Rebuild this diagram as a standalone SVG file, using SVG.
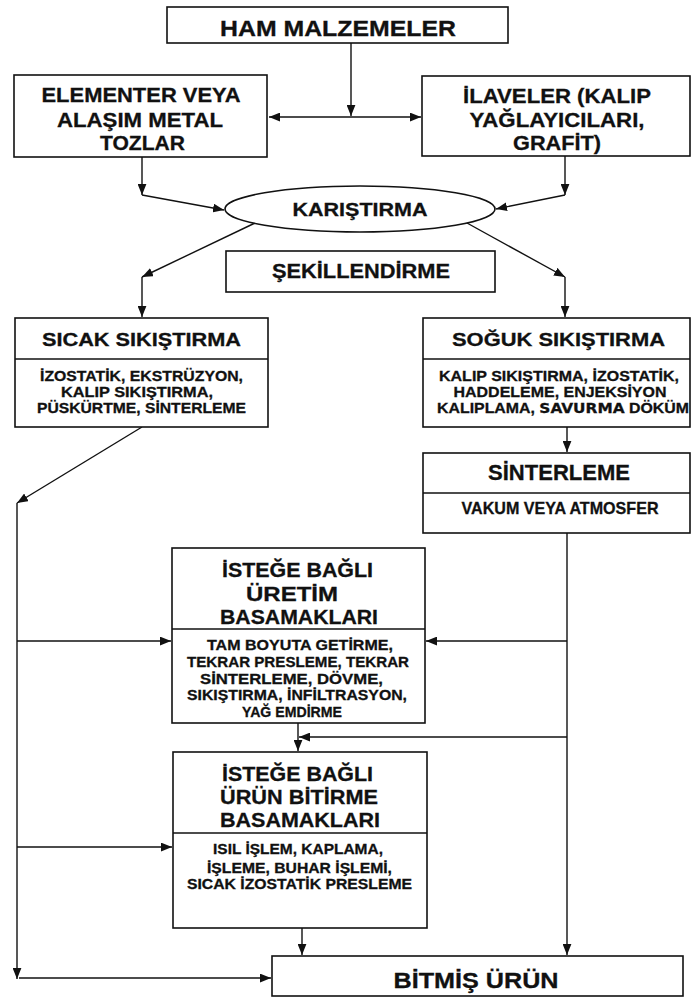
<svg xmlns="http://www.w3.org/2000/svg" width="692" height="997" viewBox="0 0 692 997">
<style>
.box{fill:#fff;stroke:#111;stroke-width:1.6}
.div{stroke:#111;stroke-width:1.4}
.t{font-family:"Liberation Sans",Arial,sans-serif;font-weight:bold;fill:#111;stroke:#111;stroke-width:0.3;text-anchor:middle}
.h{font-size:20.5px}
.s{font-size:15px}
.c{fill:none;stroke:#111;stroke-width:1.4}
</style>
<defs>
<marker id="a" viewBox="0 0 10 8" refX="10" refY="4" markerWidth="11" markerHeight="9" markerUnits="userSpaceOnUse" orient="auto"><path d="M0,0L10,4L0,8z" fill="#111"/></marker>
<marker id="b" viewBox="0 0 10 8" refX="0" refY="4" markerWidth="11" markerHeight="9" markerUnits="userSpaceOnUse" orient="auto"><path d="M10,0L0,4L10,8z" fill="#111"/></marker>
</defs>
<rect width="692" height="997" fill="#fff"/>
<g id="connectors">
<path class="c" d="M351,43V116" marker-end="url(#a)"/>
<path class="c" d="M269,117H421" marker-start="url(#b)" marker-end="url(#a)"/>
<path class="c" d="M142,157V195" marker-end="url(#a)"/>
<path class="c" d="M142,195L224,210" marker-end="url(#a)"/>
<path class="c" d="M565,156V195" marker-end="url(#a)"/>
<path class="c" d="M565,195L496,209" marker-end="url(#a)"/>
<path class="c" d="M255,223L142,277" marker-end="url(#a)"/>
<path class="c" d="M142,277V317" marker-end="url(#a)"/>
<path class="c" d="M467,223L565,277" marker-end="url(#a)"/>
<path class="c" d="M565,277V317" marker-end="url(#a)"/>
<path class="c" d="M567,427V452" marker-end="url(#a)"/>
<path class="c" d="M142,427L17,503" marker-end="url(#a)"/>
<path class="c" d="M17,503V979" marker-end="url(#a)"/>
<path class="c" d="M17,641H171" marker-end="url(#a)"/>
<path class="c" d="M17,847H172" marker-end="url(#a)"/>
<path class="c" d="M19,978H271" marker-end="url(#a)"/>
<path class="c" d="M567,533V955" marker-end="url(#a)"/>
<path class="c" d="M567,641H426" marker-end="url(#a)"/>
<path class="c" d="M567,737H299" marker-end="url(#a)"/>
<path class="c" d="M298,723V751" marker-end="url(#a)"/>
<path class="c" d="M302,928V955" marker-end="url(#a)"/>
</g>
<g id="ham">
<rect class="box" x="167" y="7" width="341" height="36"/>
<text class="t h" x="338" y="35.5" textLength="236" lengthAdjust="spacingAndGlyphs" style="font-size:22px">HAM MALZEMELER</text>
</g>
<g id="tozlar">
<rect class="box" x="14" y="75" width="253" height="82"/>
<text class="t h" x="141" y="102" textLength="199" lengthAdjust="spacingAndGlyphs">ELEMENTER VEYA</text>
<text class="t h" x="140" y="126.5" textLength="166" lengthAdjust="spacingAndGlyphs">ALAŞIM METAL</text>
<text class="t h" x="142.5" y="149.5" textLength="85" lengthAdjust="spacingAndGlyphs">TOZLAR</text>
</g>
<g id="ilaveler">
<rect class="box" x="422" y="76" width="268" height="80"/>
<text class="t h" x="557" y="102.5" textLength="188" lengthAdjust="spacingAndGlyphs">İLAVELER (KALIP</text>
<text class="t h" x="557" y="126.5" textLength="175" lengthAdjust="spacingAndGlyphs">YAĞLAYICILARI,</text>
<text class="t h" x="557" y="149.5" textLength="88" lengthAdjust="spacingAndGlyphs">GRAFİT)</text>
</g>
<g id="karistirma">
<ellipse class="box" cx="360" cy="209" rx="135" ry="23"/>
<text class="t h" x="360" y="215.5" textLength="135" lengthAdjust="spacingAndGlyphs" style="font-size:19px">KARIŞTIRMA</text>
</g>
<g id="sekillendirme">
<rect class="box" x="226" y="251" width="269" height="41"/>
<text class="t h" x="361" y="277.5" textLength="178" lengthAdjust="spacingAndGlyphs">ŞEKİLLENDİRME</text>
</g>
<g id="sicak">
<rect class="box" x="15" y="318" width="253" height="109"/>
<line class="div" x1="15" y1="359" x2="268" y2="359"/>
<text class="t h" x="141.5" y="345.5" textLength="199" lengthAdjust="spacingAndGlyphs" style="font-size:19px">SICAK SIKIŞTIRMA</text>
<text class="t s" x="141.5" y="381" textLength="203" lengthAdjust="spacingAndGlyphs">İZOSTATİK, EKSTRÜZYON,</text>
<text class="t s" x="137" y="396.5" textLength="152" lengthAdjust="spacingAndGlyphs">KALIP SIKIŞTIRMA,</text>
<text class="t s" x="141.5" y="412.5" textLength="209" lengthAdjust="spacingAndGlyphs">PÜSKÜRTME, SİNTERLEME</text>
</g>
<g id="soguk">
<rect class="box" x="423" y="318" width="267" height="109"/>
<line class="div" x1="423" y1="359" x2="690" y2="359"/>
<text class="t h" x="558.5" y="345.5" textLength="213" lengthAdjust="spacingAndGlyphs" style="font-size:19px">SOĞUK SIKIŞTIRMA</text>
<text class="t s" x="559" y="381" textLength="240" lengthAdjust="spacingAndGlyphs">KALIP SIKIŞTIRMA, İZOSTATİK,</text>
<text class="t s" x="560" y="396.5" textLength="213" lengthAdjust="spacingAndGlyphs">HADDELEME, ENJEKSİYON</text>
<text class="t s" x="563" y="412.5" textLength="252" lengthAdjust="spacingAndGlyphs">KALIPLAMA, <tspan style="font-family:'DejaVu Sans',sans-serif;font-size:14.5px">SAVURMA</tspan> DÖKÜM</text>
</g>
<g id="sinterleme">
<rect class="box" x="423" y="453" width="267" height="80"/>
<line class="div" x1="423" y1="493" x2="690" y2="493"/>
<text class="t h" x="559" y="480" textLength="142" lengthAdjust="spacingAndGlyphs" style="font-size:22px">SİNTERLEME</text>
<text class="t s" x="560" y="514" textLength="197" lengthAdjust="spacingAndGlyphs" style="font-size:17px">VAKUM VEYA ATMOSFER</text>
</g>
<g id="uretim">
<rect class="box" x="172" y="548" width="253" height="175"/>
<line class="div" x1="172" y1="629" x2="425" y2="629"/>
<text class="t h" x="297.5" y="576.5" textLength="151" lengthAdjust="spacingAndGlyphs">İSTEĞE BAĞLI</text>
<text class="t h" x="292" y="600.5" textLength="92" lengthAdjust="spacingAndGlyphs">ÜRETİM</text>
<text class="t h" x="299" y="624" textLength="158" lengthAdjust="spacingAndGlyphs">BASAMAKLARI</text>
<text class="t s" x="300" y="650" textLength="186" lengthAdjust="spacingAndGlyphs">TAM BOYUTA GETİRME,</text>
<text class="t s" x="298" y="666.5" textLength="222" lengthAdjust="spacingAndGlyphs">TEKRAR PRESLEME, TEKRAR</text>
<text class="t s" x="291.5" y="683.5" textLength="183" lengthAdjust="spacingAndGlyphs">SİNTERLEME, DÖVME,</text>
<text class="t s" x="297" y="699.5" textLength="220" lengthAdjust="spacingAndGlyphs">SIKIŞTIRMA, İNFİLTRASYON,</text>
<text class="t s" x="292" y="716.5" textLength="100" lengthAdjust="spacingAndGlyphs">YAĞ EMDİRME</text>
</g>
<g id="bitirme">
<rect class="box" x="173" y="752" width="254" height="176"/>
<line class="div" x1="173" y1="833" x2="427" y2="833"/>
<text class="t h" x="297.5" y="781" textLength="151" lengthAdjust="spacingAndGlyphs">İSTEĞE BAĞLI</text>
<text class="t h" x="299" y="804" textLength="158" lengthAdjust="spacingAndGlyphs">ÜRÜN BİTİRME</text>
<text class="t h" x="300" y="827" textLength="160" lengthAdjust="spacingAndGlyphs">BASAMAKLARI</text>
<text class="t s" x="298" y="853.5" textLength="170" lengthAdjust="spacingAndGlyphs">ISIL İŞLEM, KAPLAMA,</text>
<text class="t s" x="299.5" y="872.5" textLength="185" lengthAdjust="spacingAndGlyphs">İŞLEME, BUHAR İŞLEMİ,</text>
<text class="t s" x="299.5" y="889" textLength="225" lengthAdjust="spacingAndGlyphs">SICAK İZOSTATİK PRESLEME</text>
</g>
<g id="bitmis">
<rect class="box" x="272" y="956" width="411" height="40"/>
<text class="t h" x="476" y="987.5" textLength="165" lengthAdjust="spacingAndGlyphs" style="font-size:22px">BİTMİŞ ÜRÜN</text>
</g>
</svg>
